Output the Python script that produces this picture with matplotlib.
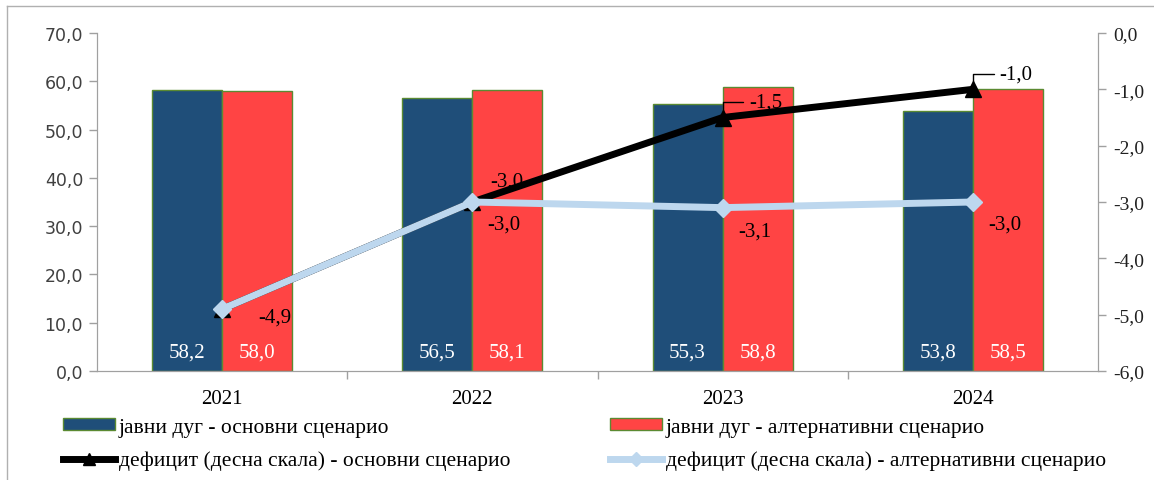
import matplotlib
matplotlib.use("Agg")
import matplotlib.pyplot as plt
from matplotlib.patches import Patch
from matplotlib.lines import Line2D

years = ["2021", "2022", "2023", "2024"]
debt_base = [58.2, 56.5, 55.3, 53.8]
debt_alt = [58.0, 58.1, 58.8, 58.5]
deficit_base = [-4.9, -3.0, -1.5, -1.0]
deficit_alt = [-4.9, -3.0, -3.1, -3.0]
left_ticks = [0, 10, 20, 30, 40, 50, 60, 70]
right_ticks = [0, -1, -2, -3, -4, -5, -6]

lbl_debt_base = "јавни дуг - основни сценарио"
lbl_debt_alt = "јавни дуг - алтернативни сценарио"
lbl_def_base = "дефицит (десна скала) - основни сценарио"
lbl_def_alt = "дефицит (десна скала) - алтернативни сценарио"

BLUE = "#1F4E79"
RED = "#FF4444"
EDGE = "#5B8A32"
LBLUE = "#BDD7EE"
GREY = "#A0A0A0"
SERIF = "Liberation Serif"
LFS = 15  # data label font size

def fmt(v):
    return f"{v:.1f}".replace(".", ",")

W, H = 1154, 481
fig = plt.figure(figsize=(W / 100, H / 100), dpi=100)
ax = fig.add_axes([97 / W, 1 - 372 / H, (1098 - 97) / W, (372 - 34) / H])
ax2 = ax.twinx()

x = list(range(len(years)))
bw = 0.28
xb = [i - bw / 2 for i in x]
xr = [i + bw / 2 for i in x]
ax.bar(xb, debt_base, width=bw, color=BLUE, edgecolor=EDGE, linewidth=1.0)
ax.bar(xr, debt_alt, width=bw, color=RED, edgecolor=EDGE, linewidth=1.0)

for xi, v in zip(xb, debt_base):
    ax.annotate(fmt(v), (xi, 0), xytext=(0, 14), textcoords="offset points",
                ha="center", va="center", color="white", fontsize=LFS, family=SERIF)
for xi, v in zip(xr, debt_alt):
    ax.annotate(fmt(v), (xi, 0), xytext=(0, 14), textcoords="offset points",
                ha="center", va="center", color="white", fontsize=LFS, family=SERIF)

ax.set_xlim(-0.5, len(years) - 0.5)
ax.set_ylim(0, 70)
ax.set_yticks(left_ticks)
ax.set_yticklabels([fmt(t) for t in left_ticks])
ax.tick_params(axis="y", colors=GREY, labelcolor="#404040", labelsize=12.5, length=6, width=1, pad=4)
for lab in ax.get_yticklabels():
    lab.set_family("DejaVu Sans")

ax.set_xticks([i + 0.5 for i in x[:-1]], minor=False)
ax.set_xticklabels([])
ax.set_xticks(x, minor=True)
ax.set_xticklabels(years, minor=True, family=SERIF, fontsize=15)
ax.tick_params(axis="x", which="major", colors=GREY, length=6, width=1)
ax.tick_params(axis="x", which="minor", length=0, pad=13, labelcolor="black")

ax.spines["top"].set_visible(False)
ax2.spines["top"].set_visible(False)
for a in (ax, ax2):
    a.spines["left"].set_color(GREY)
    a.spines["right"].set_color(GREY)
    a.spines["bottom"].set_color(GREY)

ax2.plot(x, deficit_base, color="black", lw=5, marker="^", markersize=11, zorder=3,
         solid_joinstyle="miter")
ax2.plot(x, deficit_alt, color=LBLUE, lw=5, marker="D", markersize=9, zorder=4)
ax2.set_ylim(-6, 0)
ax2.set_yticks(right_ticks)
ax2.set_yticklabels([fmt(t) for t in right_ticks])
ax2.tick_params(axis="y", colors=GREY, labelcolor="#202020", labelsize=14, length=6, width=1, pad=5)
for lab in ax2.get_yticklabels():
    lab.set_family(SERIF)

# labels for alternative deficit
alt_offsets = [(26, -6), (11, -16), (11, -17), (11, -16)]
for xi, v, off in zip(x, deficit_alt, alt_offsets):
    ax2.annotate(fmt(v), (xi, v), xytext=off, textcoords="offset points",
                 ha="left", va="center", fontsize=LFS, family=SERIF, zorder=6)

# labels for base deficit (first one coincides with the alternative label)
ax2.annotate(fmt(deficit_base[1]), (x[1], deficit_base[1]), xytext=(13, 15),
             textcoords="offset points", ha="left", va="center", fontsize=LFS, family=SERIF)
for i in (2, 3):
    ax2.annotate(fmt(deficit_base[i]), (x[i], deficit_base[i]), xytext=(19, 11),
                 textcoords="offset points", ha="left", va="center", fontsize=LFS, family=SERIF,
                 arrowprops=dict(arrowstyle="-", color="black", lw=1,
                                 connectionstyle="angle,angleA=0,angleB=90,rad=0",
                                 shrinkA=2, shrinkB=5))

# legends
h1 = Patch(facecolor=BLUE, edgecolor=EDGE, linewidth=1.0)
h2 = Patch(facecolor=RED, edgecolor=EDGE, linewidth=1.0)
h3 = Line2D([], [], color="black", lw=5, marker="^", markersize=8)
h4 = Line2D([], [], color=LBLUE, lw=5, marker="D", markersize=7)
common = dict(frameon=False, loc="center left", borderpad=0, borderaxespad=0,
              handlelength=2.4, handleheight=0.45, handletextpad=0.2, labelspacing=0.65,
              prop={"family": SERIF, "size": 15.5})
fig.legend([h1, h3], [lbl_debt_base, lbl_def_base],
           bbox_to_anchor=(63 / W, 1 - 445 / H), **common)
fig.legend([h2, h4], [lbl_debt_alt, lbl_def_alt],
           bbox_to_anchor=(610 / W, 1 - 445 / H), **common)

# outer frame (top & left edges visible)
fig.add_artist(Line2D([7 / W, 1.0], [1 - 7 / H, 1 - 7 / H], color="#B0B0B0", lw=1,
                      transform=fig.transFigure))
fig.add_artist(Line2D([7 / W, 7 / W], [0, 1 - 7 / H], color="#B0B0B0", lw=1,
                      transform=fig.transFigure))

fig.savefig("out.png", dpi=100)
